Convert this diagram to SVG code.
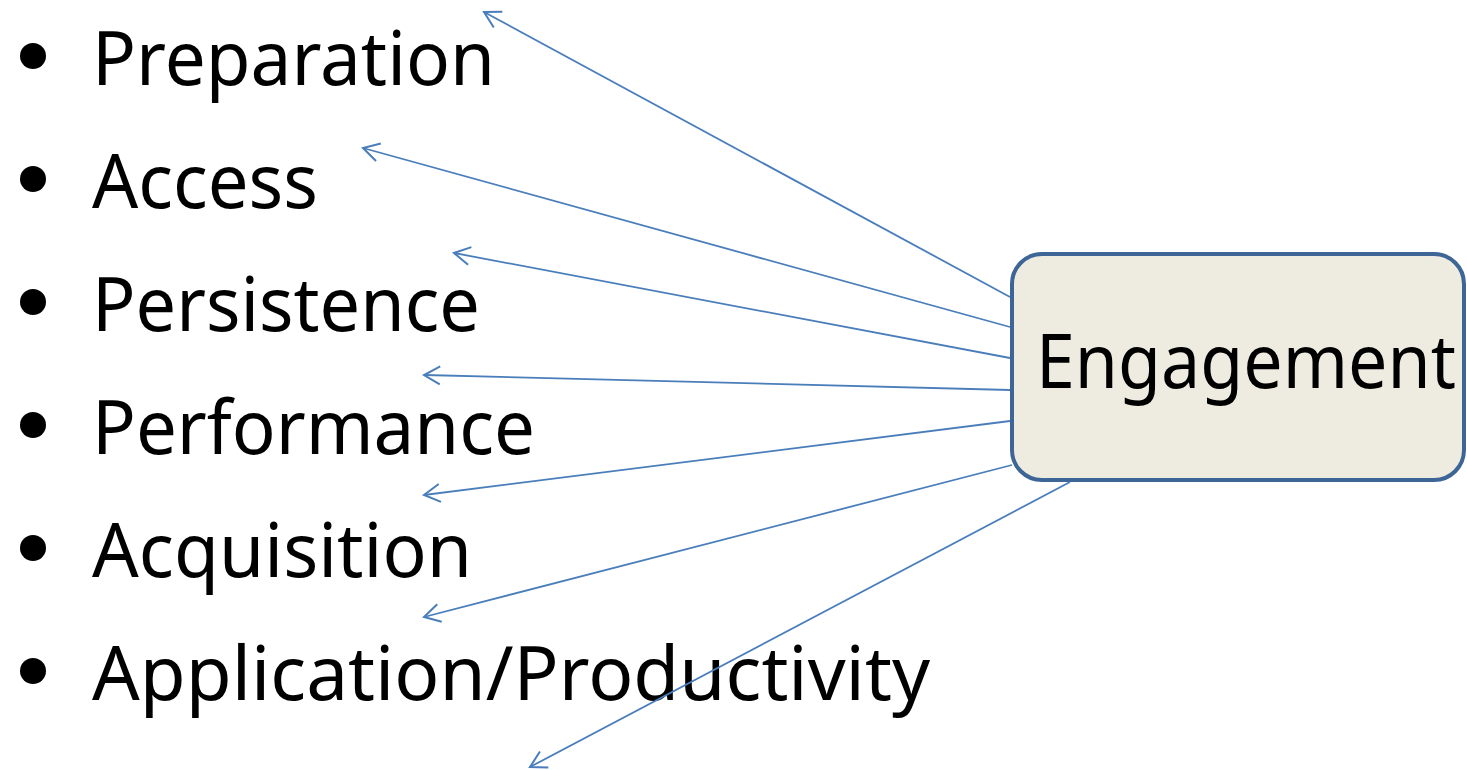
<svg xmlns="http://www.w3.org/2000/svg" width="1467" height="770" viewBox="0 0 1467 770">
<defs>
<style>
.t{font-family:"Noto Sans","Open Sans",sans-serif;font-size:74px;fill:#000}
.c{stroke:#4A7EBB;stroke-width:1.8;fill:none;marker-end:url(#ah)}
</style>
<marker id="ah" viewBox="0 0 22 22" refX="20" refY="11" markerWidth="22" markerHeight="22" markerUnits="userSpaceOnUse" orient="auto">
<path d="M4,2 L20,11 L4,20" fill="none" stroke="#4A7EBB" stroke-width="2"/>
</marker>
</defs>
<rect width="1467" height="770" fill="#fff"/>
<g id="list">
<circle cx="33" cy="56" r="13"/>
<text class="t" x="92" y="85" textLength="403" lengthAdjust="spacingAndGlyphs">Preparation</text>
<circle cx="33" cy="179" r="13"/>
<text class="t" x="92" y="208" textLength="226" lengthAdjust="spacingAndGlyphs">Access</text>
<circle cx="33" cy="302" r="13"/>
<text class="t" x="92" y="331" textLength="388" lengthAdjust="spacingAndGlyphs">Persistence</text>
<circle cx="33" cy="425" r="13"/>
<text class="t" x="92" y="454" textLength="443" lengthAdjust="spacingAndGlyphs">Performance</text>
<circle cx="33" cy="548" r="13"/>
<text class="t" x="92" y="577" textLength="380" lengthAdjust="spacingAndGlyphs">Acquisition</text>
<circle cx="33" cy="671" r="13"/>
<text class="t" x="92" y="700" textLength="838" lengthAdjust="spacingAndGlyphs">Application/Productivity</text>
</g>
<g id="engagement">
<rect x="1012" y="254" width="452" height="226" rx="30" ry="30" fill="#EEEBE0" stroke="#3D6596" stroke-width="4"/>
<text class="t" x="1036" y="388" textLength="420" lengthAdjust="spacingAndGlyphs">Engagement</text>
</g>
<g id="connectors">
<line class="c" x1="1010" y1="297" x2="484" y2="12"/>
<line class="c" x1="1010" y1="327" x2="363" y2="148"/>
<line class="c" x1="1010" y1="358" x2="454" y2="253"/>
<line class="c" x1="1010" y1="390" x2="424" y2="375"/>
<line class="c" x1="1010" y1="421" x2="424" y2="495"/>
<line class="c" x1="1012" y1="465" x2="424" y2="617"/>
<line class="c" x1="1070" y1="482" x2="530" y2="767"/>
</g>
</svg>
